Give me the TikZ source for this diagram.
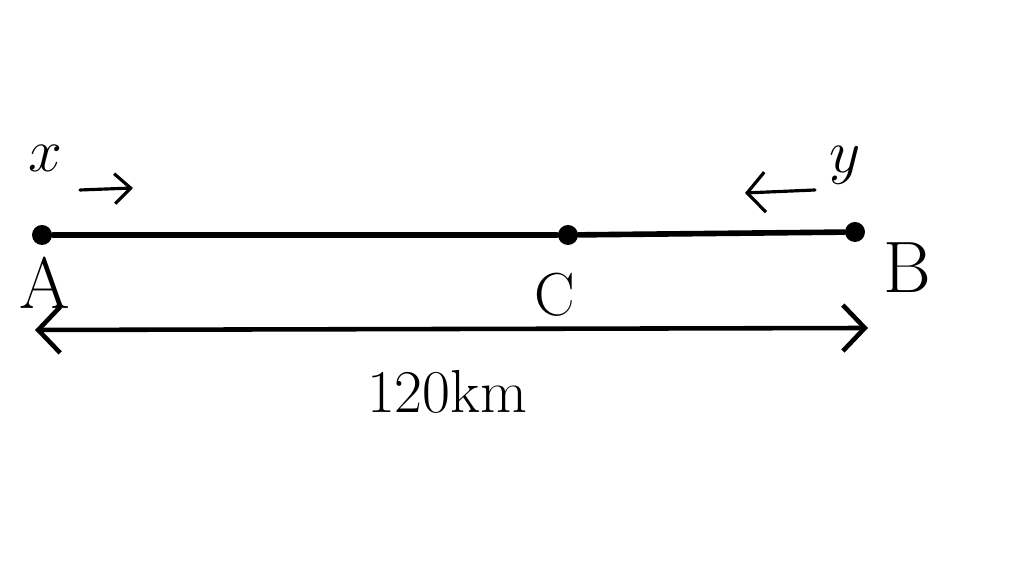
\documentclass[tikz,border=0pt]{standalone}
\usepackage{xcolor}
\usepackage{tikz}
\usetikzlibrary{arrows.meta}

\begin{document}
\begin{tikzpicture}[line cap=round,
                    dot/.style={circle,fill=black,inner sep=0pt,minimum size=0.2cm},
                    lbl/.style={inner sep=0pt}]
                    \useasboundingbox (0,0) rectangle (10.24,5.75);

                    \node[dot] (A) at (0.42,3.40) {};
                    \node[dot] (C) at (5.68,3.40) {};
                    \node[dot] (B) at (8.55,3.43) {};
                    \draw[line width=1.6pt] (A) -- (C) -- (B);

                    \node[lbl] (lA) at (0.45,2.92) {\huge A};
                    \node[lbl] (lC) at (5.55,2.80) {\LARGE C};
                    \node[lbl] (lB) at (9.07,3.07) {\huge B};

                    \coordinate (dL) at (0.35,2.45);
                    \coordinate (dR) at (8.68,2.47);
                    \draw[line width=1.3pt,{Straight Barb[length=2.2mm,width=4.6mm]}-{Straight Barb[length=2.2mm,width=4.6mm]}] (dL) -- (dR);
                    \node[lbl] (dist) at (4.47,1.83) {\LARGE 120km};

                    \node[lbl] (x) at (0.45,4.17) {\LARGE $x$};
                    \coordinate (x1) at (0.80,3.85);
                    \coordinate (x2) at (1.33,3.87);
                    \draw[line width=0.9pt,-{Straight Barb[length=1.6mm,width=3mm]}] (x1) -- (x2);

                    \node[lbl] (y) at (8.45,4.10) {\LARGE $y$};
                    \coordinate (y1) at (8.15,3.85);
                    \coordinate (y2) at (7.45,3.82);
                    \draw[line width=0.9pt,-{Straight Barb[length=1.8mm,width=4mm]}] (y1) -- (y2);
                \end{tikzpicture}
\end{document}
